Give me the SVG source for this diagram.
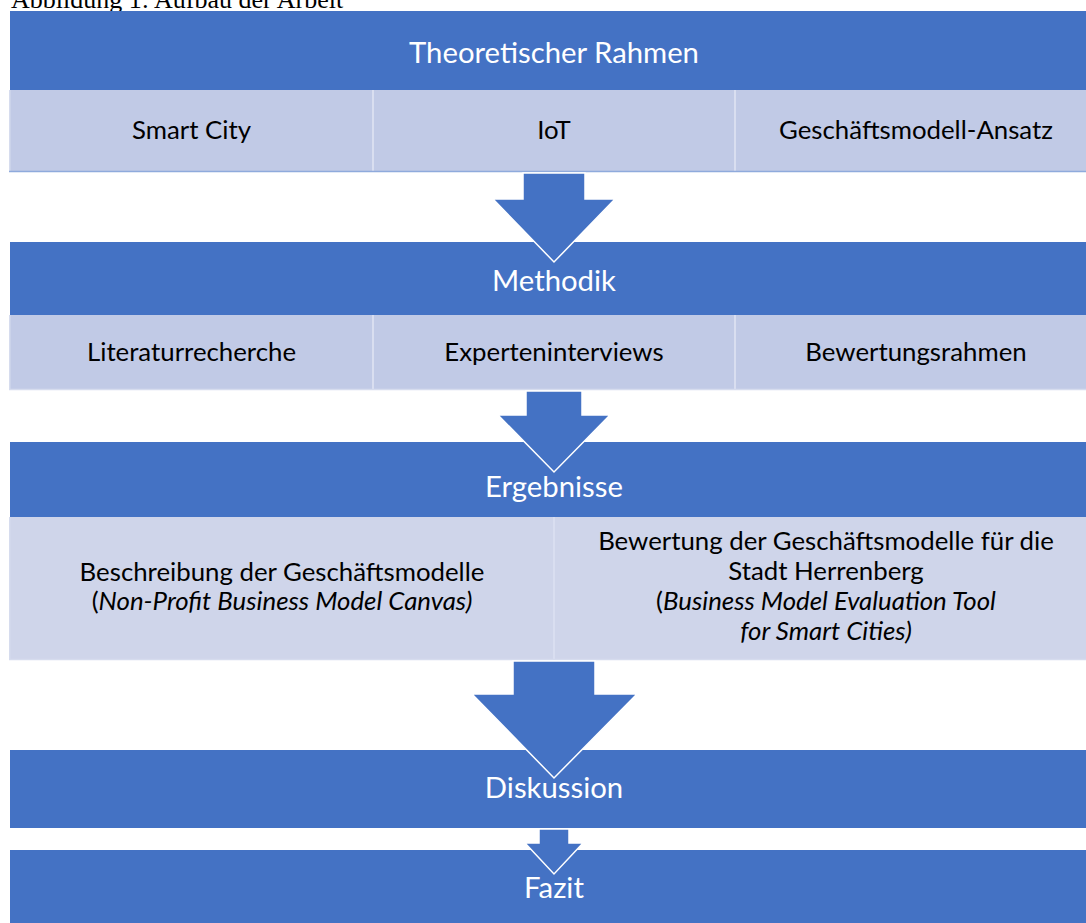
<svg xmlns="http://www.w3.org/2000/svg" width="1086" height="923" viewBox="0 0 1086 923">
  <style>
    .bar { fill: #4472C4; }
    .cell { fill: #C1CAE6; }
    .cell3 { fill: #CFD5EA; }
    .div { stroke: #D9DEF0; stroke-width: 2; }
    .edge { stroke: #D6DCEE; stroke-width: 1.5; fill: none; }
    .edgeblue { stroke: #8FAADC; stroke-width: 1.5; }
    .arrow { fill: #4472C4; stroke: #FFFFFF; stroke-width: 1.5; stroke-linejoin: miter; }
    .head { font-family: Lato, "Liberation Sans", sans-serif; font-size: 29.3px; fill: #FFFFFF; text-anchor: middle; }
    .lbl { font-family: Lato, "Liberation Sans", sans-serif; font-size: 25.8px; fill: #000000; text-anchor: middle; }
    .cap { font-family: "Liberation Serif", serif; font-size: 26px; fill: #000000; }
  </style>
  <rect x="0" y="0" width="1086" height="923" fill="#FFFFFF"/>

  <text class="cap" x="11" y="8">Abbildung 1: Aufbau der Arbeit</text>

  <!-- Section 1: theoretical framework -->
  <g id="theorie">
    <rect class="bar" x="10" y="11" width="1088" height="79"/>
    <rect class="cell" x="9" y="90" width="1089" height="82"/>
    <line class="edge" x1="9.75" y1="90" x2="9.75" y2="172"/>
    <line class="div" x1="373" y1="90" x2="373" y2="172"/>
    <line class="div" x1="735" y1="90" x2="735" y2="172"/>
    <line class="edgeblue" x1="9" y1="171.5" x2="1098" y2="171.5"/>
    <text class="head" x="554" y="63">Theoretischer Rahmen</text>
    <text class="lbl" x="191.5" y="139">Smart City</text>
    <text class="lbl" x="554" y="139">IoT</text>
    <text class="lbl" x="916" y="139">Geschäftsmodell-Ansatz</text>
  </g>

  <!-- Section 2: method -->
  <g id="methodik">
    <rect class="bar" x="10" y="242" width="1088" height="73"/>
    <rect class="cell" x="9" y="315" width="1089" height="75"/>
    <line class="edge" x1="9.75" y1="315" x2="9.75" y2="390"/>
    <line class="div" x1="373" y1="315" x2="373" y2="390"/>
    <line class="div" x1="735" y1="315" x2="735" y2="390"/>
    <line class="edge" x1="9" y1="389.5" x2="1098" y2="389.5"/>
    <text class="head" x="554" y="291">Methodik</text>
    <text class="lbl" x="191.5" y="361">Literaturrecherche</text>
    <text class="lbl" x="554" y="361">Experteninterviews</text>
    <text class="lbl" x="916" y="361">Bewertungsrahmen</text>
  </g>

  <!-- Section 3: results -->
  <g id="ergebnisse">
    <rect class="bar" x="10" y="442" width="1088" height="75"/>
    <rect class="cell3" x="9" y="517" width="1089" height="143"/>
    <line class="edge" x1="9.75" y1="517" x2="9.75" y2="660"/>
    <line class="div" x1="554" y1="517" x2="554" y2="660"/>
    <line class="edge" x1="9" y1="659.5" x2="1098" y2="659.5"/>
    <text class="head" x="554" y="497">Ergebnisse</text>
    <text class="lbl" x="282" y="581">Beschreibung der Geschäftsmodelle</text>
    <text class="lbl" x="282" y="610">(<tspan font-style="italic">Non-Profit Business Model Canvas)</tspan></text>
    <text class="lbl" x="826" y="550">Bewertung der Geschäftsmodelle für die</text>
    <text class="lbl" x="826" y="580">Stadt Herrenberg</text>
    <text class="lbl" x="826" y="610">(<tspan font-style="italic">Business Model Evaluation Tool </tspan></text>
    <text class="lbl" x="826" y="640" font-style="italic">for Smart Cities)</text>
  </g>

  <!-- Section 4: discussion -->
  <g id="diskussion">
    <rect class="bar" x="10" y="750" width="1088" height="78"/>
    <text class="head" x="554" y="798">Diskussion</text>
  </g>

  <!-- Section 5: conclusion -->
  <g id="fazit">
    <rect class="bar" x="10" y="850" width="1088" height="80"/>
    <text class="head" x="554" y="898">Fazit</text>
  </g>

  <!-- Block arrows between sections -->
  <g id="connectors">
    <polygon class="arrow" points="523,173 585,173 585,199 615,199 554,262 493,199 523,199"/>
    <polygon class="arrow" points="526,391 582,391 582,415 610,415 554,472 498,415 526,415"/>
    <polygon class="arrow" points="513,661 595,661 595,694 637,694 554,778 472,694 513,694"/>
    <polygon class="arrow" points="539,829 569,829 569,843 583,843 554,874 525,843 539,843"/>
  </g>
</svg>
